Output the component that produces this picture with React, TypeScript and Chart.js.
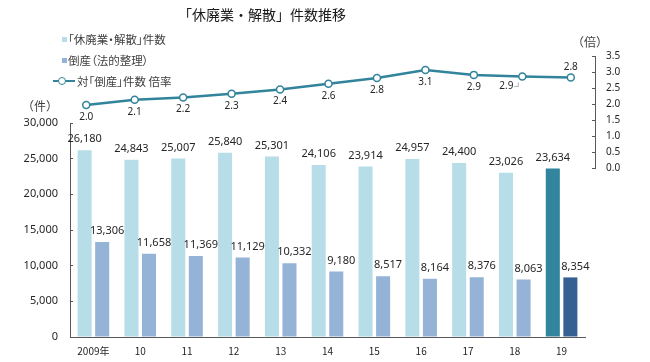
import React, { useEffect, useRef } from "react";
import { Chart, registerables } from "chart.js";

Chart.register(...registerables);

// ---- data ----
const categories = ["2009年", "10", "11", "12", "13", "14", "15", "16", "17", "18", "19"];
const closures = [26180, 24843, 25007, 25840, 25301, 24106, 23914, 24957, 24400, 23026, 23634];
const bankruptcies = [13306, 11658, 11369, 11129, 10332, 9180, 8517, 8164, 8376, 8063, 8354];
const ratio = [1.97, 2.13, 2.2, 2.32, 2.45, 2.63, 2.81, 3.06, 2.91, 2.86, 2.83];
const ratioLabels = ["2.0", "2.1", "2.2", "2.3", "2.4", "2.6", "2.8", "3.1", "2.9", "2.9", "2.8"];

const titleText = "「休廃業・解散」件数推移";
const legendClosures = "「休廃業・解散」件数";
const legendBankrupt = "倒産（法的整理）";
const legendRatio = "対「倒産」件数 倍率";

// ---- styles ----
const LIGHT = "#b7dee8";
const LIGHT_HL = "#31859c";
const DARK = "#95b3d7";
const DARK_HL = "#366092";
const LINE = "#31849b";
const AXIS = "#595959";
const TEXT = "#262626";
const NUM_FONT = '"Noto Sans", "DejaVu Sans", sans-serif';
const JP_FONT = '"Noto Sans CJK JP", "Noto Sans", sans-serif';

const barLabelPlugin = {
  id: "barLabels",
  afterDatasetsDraw(chart: any) {
    const ctx = chart.ctx;
    ctx.save();
    ctx.font = `11px ${NUM_FONT}`;
    ctx.fillStyle = TEXT;
    ctx.textAlign = "center";
    ctx.textBaseline = "middle";
    chart.data.datasets.forEach((ds: any, di: number) => {
      const meta = chart.getDatasetMeta(di);
      meta.data.forEach((el: any, i: number) => {
        const v = ds.data[i] as number;
        const dx = di === 1 ? 5 : 0;
        ctx.fillText(v.toLocaleString("en-US"), el.x + dx, el.y - 11);
      });
    });
    ctx.restore();
  },
};

const lineLabelPlugin = {
  id: "lineLabels",
  afterDatasetsDraw(chart: any) {
    const ctx = chart.ctx;
    const meta = chart.getDatasetMeta(0);
    const n = meta.data.length;
    ctx.save();
    ctx.font = `10px ${NUM_FONT}`;
    ctx.fillStyle = TEXT;
    ctx.textAlign = "center";
    ctx.textBaseline = "middle";
    meta.data.forEach((pt: any, i: number) => {
      let x = pt.x;
      let y = pt.y + 12;
      if (i === n - 1) y = pt.y - 10;
      if (i === n - 2) {
        x = pt.x - 16;
        y = pt.y + 10;
        ctx.strokeStyle = "#a0a0a0";
        ctx.lineWidth = 0.8;
        ctx.beginPath();
        ctx.moveTo(x + 8, y);
        ctx.lineTo(x + 12, y);
        ctx.lineTo(x + 12, y - 4);
        ctx.stroke();
      }
      ctx.fillText(ratioLabels[i], x, y);
    });
    ctx.restore();
  },
};

export default function App() {
  const barRef = useRef<HTMLCanvasElement>(null);
  const lineRef = useRef<HTMLCanvasElement>(null);

  useEffect(() => {
    const last = categories.length - 1;
    const barChart = new Chart(barRef.current!, {
      type: "bar",
      data: {
        labels: categories,
        datasets: [
          {
            label: legendClosures,
            data: closures,
            backgroundColor: closures.map((_, i) => (i === last ? LIGHT_HL : LIGHT)),
            categoryPercentage: 0.75,
            barPercentage: 0.8,
          },
          {
            label: legendBankrupt,
            data: bankruptcies,
            backgroundColor: bankruptcies.map((_, i) => (i === last ? DARK_HL : DARK)),
            categoryPercentage: 0.75,
            barPercentage: 0.8,
          },
        ],
      },
      options: {
        responsive: false,
        animation: false,
        layout: { padding: { left: 0, top: 123, right: 65, bottom: 0 } },
        plugins: { legend: { display: false }, tooltip: { enabled: false } },
        scales: {
          x: {
            grid: { display: false, drawTicks: false },
            border: { display: true, color: AXIS, width: 1 },
            ticks: { font: { size: 10, family: JP_FONT }, color: TEXT, padding: 8 },
            afterFit(s: any) {
              s.height = 25;
            },
          },
          y: {
            min: 0,
            max: 30000,
            ticks: {
              stepSize: 5000,
              callback: (v: any) => Number(v).toLocaleString("en-US"),
              font: { size: 11, family: NUM_FONT },
              color: TEXT,
              padding: 15,
            },
            grid: { drawOnChartArea: false, tickLength: -3, color: AXIS },
            border: { color: AXIS, width: 1 },
            afterFit(s: any) {
              s.width = 70;
            },
          },
        },
      },
      plugins: [barLabelPlugin],
    });

    const lineChart = new Chart(lineRef.current!, {
      type: "line",
      data: {
        labels: categories,
        datasets: [
          {
            label: legendRatio,
            data: ratio,
            borderColor: LINE,
            borderWidth: 2.5,
            pointRadius: 3.5,
            pointBackgroundColor: "#ffffff",
            pointBorderColor: LINE,
            pointBorderWidth: 1.5,
            tension: 0,
          },
        ],
      },
      options: {
        responsive: false,
        animation: false,
        layout: { padding: { left: 62, top: 56, right: 0, bottom: 194 } },
        plugins: { legend: { display: false }, tooltip: { enabled: false } },
        scales: {
          x: { display: false, offset: true },
          y: {
            position: "right",
            min: 0,
            max: 3.5,
            ticks: {
              stepSize: 0.5,
              callback: (v: any) => Number(v).toFixed(1),
              font: { size: 10, family: NUM_FONT },
              color: TEXT,
              padding: 14,
            },
            grid: { drawOnChartArea: false, tickLength: -3, color: AXIS },
            border: { color: AXIS, width: 1 },
            afterFit(s: any) {
              s.width = 55;
            },
          },
        },
      },
      plugins: [lineLabelPlugin],
    });

    return () => {
      barChart.destroy();
      lineChart.destroy();
    };
  }, []);

  const abs: React.CSSProperties = { position: "absolute" };
  const legendText: React.CSSProperties = {
    ...abs,
    fontFamily: JP_FONT,
    fontSize: 11.5,
    lineHeight: "14px",
    color: "#404040",
    whiteSpace: "nowrap",
    fontFeatureSettings: '"palt"',
  };

  return (
    <div
      style={{
        position: "absolute",
        left: 0,
        top: 0,
        width: 650,
        height: 362,
        background: "#ffffff",
        overflow: "hidden",
      }}
    >
      <canvas ref={barRef} width={650} height={362} style={{ ...abs, left: 0, top: 0 }} />
      <canvas
        ref={lineRef}
        width={650}
        height={362}
        style={{ ...abs, left: 0, top: 0, pointerEvents: "none" }}
      />
      <div
        style={{
          ...abs,
          left: 0,
          top: 6,
          width: 524,
          textAlign: "center",
          fontFamily: JP_FONT,
          fontSize: 14,
          lineHeight: "16px",
          color: "#1a1a1a",
        }}
      >
        {titleText}
      </div>
      <div style={{ ...abs, left: 62, top: 37, width: 5, height: 5, background: LIGHT }} />
      <div style={{ ...legendText, left: 68, top: 32 }}>{legendClosures}</div>
      <div style={{ ...abs, left: 62, top: 58, width: 5, height: 5, background: DARK }} />
      <div style={{ ...legendText, left: 68, top: 53 }}>{legendBankrupt}</div>
      <div style={{ ...abs, left: 53, top: 79.5, width: 22, height: 2.5, background: LINE }} />
      <div
        style={{
          ...abs,
          left: 58,
          top: 77.2,
          width: 6,
          height: 6,
          borderRadius: "50%",
          border: `1.5px solid ${LINE}`,
          background: "#ffffff",
        }}
      />
      <div style={{ ...legendText, left: 77, top: 74 }}>{legendRatio}</div>
      <div
        style={{
          ...abs,
          left: 20,
          top: 98,
          width: 40,
          textAlign: "center",
          fontFamily: JP_FONT,
          fontSize: 12,
          lineHeight: "16px",
          color: "#404040",
        }}
      >
        （件）
      </div>
      <div
        style={{
          ...abs,
          left: 570,
          top: 34,
          width: 40,
          textAlign: "center",
          fontFamily: JP_FONT,
          fontSize: 12,
          lineHeight: "16px",
          color: "#404040",
        }}
      >
        （倍）
      </div>
    </div>
  );
}
